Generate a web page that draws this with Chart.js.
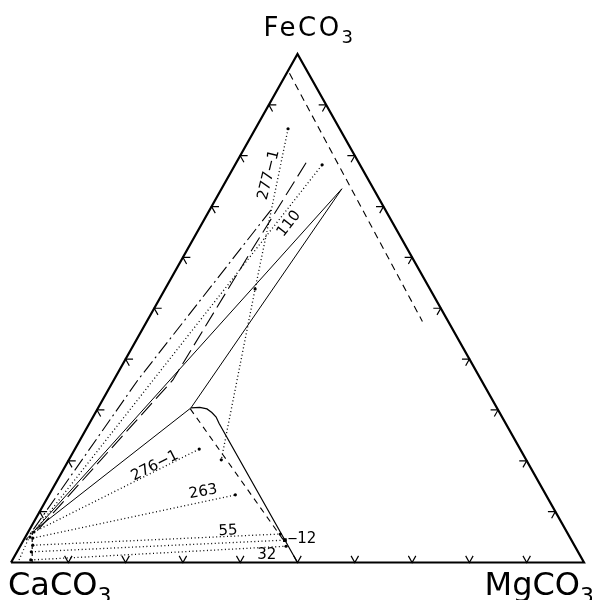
<!DOCTYPE html>
<html>
<head>
<meta charset="utf-8">
<script src="https://cdn.jsdelivr.net/npm/chart.js@4.4.0/dist/chart.umd.min.js"></script>
<style>
  html, body { margin: 0; padding: 0; background: #fff; }
  canvas { display: block; }
</style>
</head>
<body>
<canvas id="myChart" width="592" height="600"></canvas>
<script>
// all compositions are mol % as [MgCO3, FeCO3]; CaCO3 makes up the rest
const outline = [[0, 0], [100, 0], [0, 100], [0, 0]];
const tickSteps = [10, 20, 30, 40, 50, 60, 70, 80, 90];

// field boundaries
const boundaryA = [[21.0, 73.5], [1.0, 6.4]];
const boundaryB = [[21.0, 73.5], [16.2, 30.4], [1.0, 6.4]];
const dolomiteEdge = [[16.2, 30.4], [17.7, 30.5], [19.1, 30.2], [20.3, 29.5], [21.5, 28.6], [22.6, 27.4], [50, 0]];
const dolomiteDashed = [[16.2, 30.2], [45.8, 4.0]];
const sideriteDashed = [[0.5, 96.2], [48.1, 47.4]];
const calciteDashed = [[0.6, 6.2], [3.7, 0]];
const calciteDotted = [[1.15, 0.5], [0.6, 5.8]];
const longDashed = [[12.2, 78.6], [11.3, 61.5], [10.3, 35.9], [1.5, 6.4]];
const dashDotted = [[10.7, 69.3], [4.2, 35.9], [0.4, 4.4]];

// tie lines, one per sample
const tie277 = [[5.7, 85.3], [15.7, 53.8], [26.6, 20.2]];
const tie110 = [[0.8, 5.0], [15.2, 78.2]];
const tie276 = [[1.0, 6.0], [21.7, 22.3]];
const tie263 = [[1.4, 4.8], [32.5, 13.3]];
const tie55 = [[2.1, 3.4], [44.2, 5.6]];
const tie12 = [[2.5, 2.1], [45.6, 4.4]];
const tie32 = [[3.2, 0.5], [46.4, 3.2]];

// sample labels: text, position, angle in degrees
const sampleText = ['277\u22121', '110', '276\u22121', '263', '55', '\u201212', '32'];
const samplePos = [[6.9, 76.2], [15.2, 66.6], [15.6, 19.0], [26.6, 13.9], [34.8, 6.2], [48.5, 4.6], [43.9, 1.5]];
const sampleAngle = [-76, -52, -27, -10, -3, 0, 0];

const toXY = ([mg, fe]) => ({ x: (mg + fe / 2) / 100, y: fe / 100 });

const L = 1.3;
const tickPts = [];
tickSteps.forEach(f => {
  // bottom edge, V opening upward
  tickPts.push([f, L], [f, 0], [f - L, L], null);
  // left edge
  tickPts.push([L, f], [0, f], [L, f - L], null);
  // right edge
  tickPts.push([100 - f - L, f], [100 - f, f], [100 - f, f - L], null);
});

const line = (pts, dash, width) => ({
  data: pts.map(p => (p ? toXY(p) : { x: null, y: null })),
  showLine: true,
  borderColor: '#000',
  borderWidth: width || 1,
  borderDash: dash || [],
  pointRadius: 0,
  clip: false,
  spanGaps: false,
  tension: 0
});

const dotted = [1, 2.6];
const ties = [tie277, tie110, tie276, tie263, tie55, tie12, tie32];
const dots = [].concat(...ties);

const datasets = [
  line(outline, [], 2.2),
  line(tickPts, [], 1.2),
  line(boundaryA, [], 1),
  line(boundaryB, [], 1),
  line(dolomiteEdge, [], 1.2),
  line(dolomiteDashed, [6, 5], 1.1),
  line(sideriteDashed, [7, 5], 1.1),
  line(calciteDashed, [4, 3], 1.1),
  line(calciteDotted, dotted, 1.2),
  line(longDashed, [16, 6], 1.1),
  line(dashDotted, [14, 4, 2, 4], 1.1),
  ...ties.map(t => line(t, dotted, 1.3)),
  {
    data: dots.map(toXY),
    showLine: false,
    pointRadius: 1.6,
    pointBackgroundColor: '#000',
    pointBorderWidth: 0,
    clip: false
  },
  {
    data: [toXY(tie12[1])],
    showLine: false,
    pointStyle: 'rect',
    pointRadius: 2.6,
    pointBackgroundColor: '#000',
    pointBorderWidth: 0,
    clip: false
  }
];

const drawFormula = (ctx, main, sub, px, py, size, align, spacing) => {
  ctx.save();
  ctx.textBaseline = 'alphabetic';
  ctx.textAlign = 'left';
  ctx.letterSpacing = spacing + 'px';
  ctx.font = size + 'px "DejaVu Sans"';
  const w1 = ctx.measureText(main).width;
  ctx.font = Math.round(size * 0.68) + 'px "DejaVu Sans"';
  const w2 = ctx.measureText(sub).width;
  let left = px;
  if (align === 'center') left = px - (w1 + w2) / 2;
  if (align === 'right') left = px - (w1 + w2);
  ctx.font = size + 'px "DejaVu Sans"';
  ctx.fillText(main, left, py);
  ctx.font = Math.round(size * 0.68) + 'px "DejaVu Sans"';
  ctx.fillText(sub, left + w1, py + size * 0.27);
  ctx.restore();
};

const labelPlugin = {
  id: 'labels',
  afterDatasetsDraw(chart) {
    const { ctx, scales: { x, y } } = chart;
    ctx.fillStyle = '#000';

    const apex = { x: x.getPixelForValue(0.5), y: y.getPixelForValue(1) };
    const base = y.getPixelForValue(0);
    drawFormula(ctx, 'FeCO', '3', apex.x + 12, apex.y - 18, 26, 'center', 2.5);
    drawFormula(ctx, 'CaCO', '3', x.getPixelForValue(0) - 3, base + 32, 32, 'left', 0);
    drawFormula(ctx, 'MgCO', '3', x.getPixelForValue(1) + 10, base + 32, 32, 'right', 0);

    ctx.font = '15px "DejaVu Sans"';
    ctx.textAlign = 'center';
    ctx.textBaseline = 'middle';
    sampleText.forEach((t, i) => {
      const p = toXY(samplePos[i]);
      ctx.save();
      ctx.translate(x.getPixelForValue(p.x), y.getPixelForValue(p.y));
      ctx.rotate(sampleAngle[i] * Math.PI / 180);
      ctx.fillText(t, 0, 0);
      ctx.restore();
    });
  }
};

const ctx = document.getElementById('myChart').getContext('2d');
const chart = new Chart(ctx, {
  type: 'scatter',
  data: { datasets },
  options: {
    responsive: false,
    animation: false,
    layout: { padding: { left: 11, right: 8, top: 54, bottom: 37.5 } },
    scales: {
      x: { type: 'linear', min: 0, max: 1, display: false },
      y: { type: 'linear', min: 0, max: 1, display: false }
    },
    plugins: { legend: { display: false }, tooltip: { enabled: false } }
  },
  plugins: [labelPlugin]
});
</script>
</body>
</html>
